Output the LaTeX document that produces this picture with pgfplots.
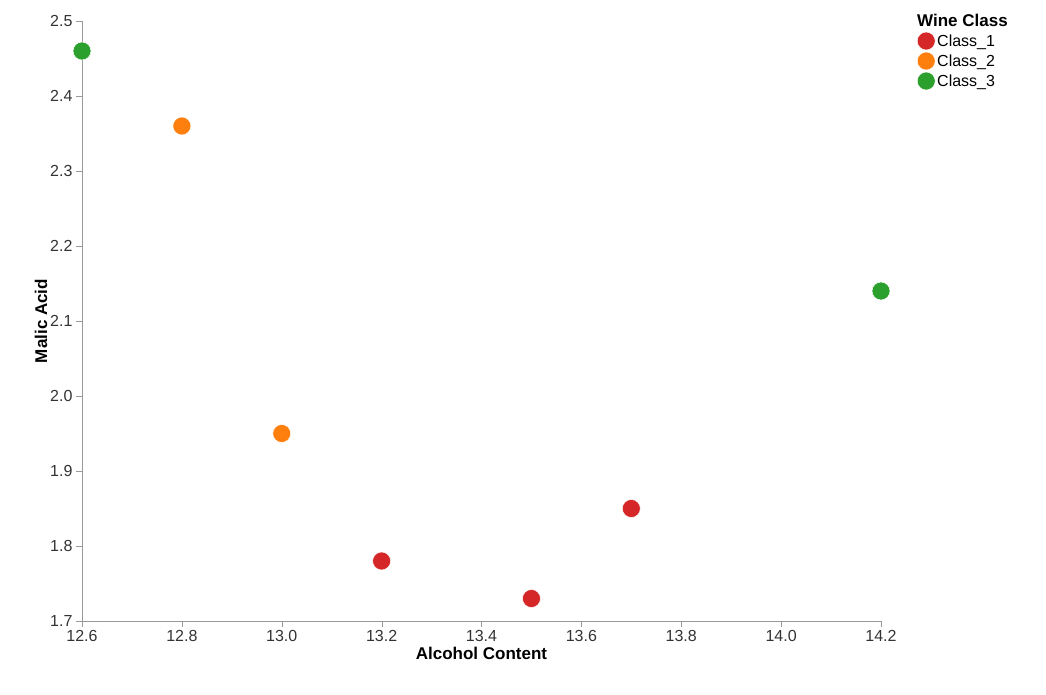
\documentclass[border=0pt]{standalone}
\usepackage{pgfplots}
\pgfplotsset{compat=1.18}
\usepackage{fontspec}
\setmainfont{Liberation Sans}
\definecolor{cr}{HTML}{D62728}
\definecolor{co}{HTML}{FF7F0E}
\definecolor{cg}{HTML}{2CA02C}
\begin{document}
\begin{tikzpicture}[x=1pt,y=1pt]
\path[use as bounding box] (-82,-73) rectangle (964,621);
\begin{axis}[at={(0,0)},anchor=south west,scale only axis,width=799pt,height=600pt,
 xmin=12.6,xmax=14.2,ymin=1.7,ymax=2.5,
 axis x line*=bottom, axis y line*=left, axis line style={gray!80,-},
 xtick distance=0.2, ytick distance=0.1,
 tick style={gray!80}, tick align=outside, major tick length=6pt,
 xticklabel style={/pgf/number format/.cd,fixed,fixed zerofill,precision=1},
 yticklabel style={/pgf/number format/.cd,fixed,fixed zerofill,precision=1},
 /pgf/number format/assume math mode=true,
 ticklabel style={font=\fontsize{16}{16}\selectfont,text=black!80},
 xlabel={\textbf{Alcohol Content}}, ylabel={\textbf{Malic Acid}},
 label style={font=\fontsize{17}{17}\selectfont},
 xlabel style={yshift=2pt}, ylabel style={yshift=-4pt},
 clip=false,
 legend style={draw=none,at={(832pt,611pt)},anchor=north west,font=\fontsize{16}{16}\selectfont,row sep=2pt},
 legend cell align=left,
]
\addlegendimage{empty legend}\addlegendentry{\hspace{-20pt}\textbf{\fontsize{17}{17}\selectfont Wine Class}}
\addplot[only marks,mark=*,mark size=9pt,color=cr,mark options={draw=white,line width=0.5pt,fill=cr}] coordinates {(13.2,1.78)(13.5,1.73)(13.7,1.85)};
\addlegendentry{Class\_1}
\addplot[only marks,mark=*,mark size=9pt,color=co,mark options={draw=white,line width=0.5pt,fill=co}] coordinates {(12.8,2.36)(13.0,1.95)};
\addlegendentry{Class\_2}
\addplot[only marks,mark=*,mark size=9pt,color=cg,mark options={draw=white,line width=0.5pt,fill=cg}] coordinates {(12.6,2.46)(14.2,2.14)};
\addlegendentry{Class\_3}
\end{axis}
\end{tikzpicture}
\end{document}
